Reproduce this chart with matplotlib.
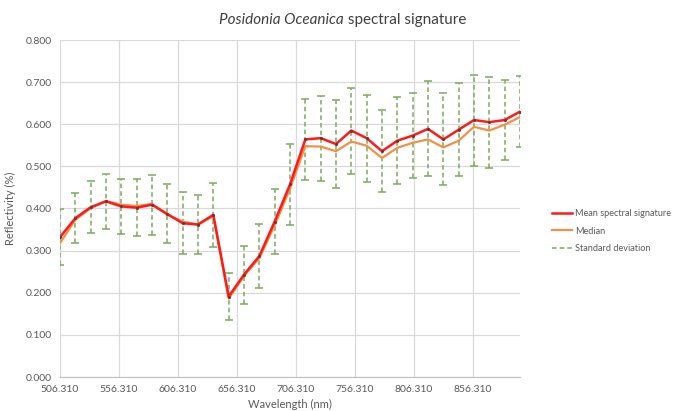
import matplotlib
matplotlib.use("Agg")
import matplotlib.pyplot as plt
from matplotlib.lines import Line2D
from matplotlib.ticker import FormatStrFormatter

wavelength = [506.31, 519.31, 532.31, 545.31, 558.31, 571.31, 584.31, 597.31,
              610.31, 623.31, 636.31, 649.31, 662.31, 675.31, 688.31, 701.31,
              714.31, 727.31, 740.31, 753.31, 766.31, 779.31, 792.31, 805.31,
              818.31, 831.31, 844.31, 857.31, 870.31, 883.31, 896.31]
mean_sig = [0.332, 0.377, 0.403, 0.417, 0.405, 0.402, 0.409, 0.387,
            0.365, 0.362, 0.385, 0.191, 0.243, 0.287, 0.369, 0.457,
            0.564, 0.567, 0.553, 0.585, 0.567, 0.536, 0.561, 0.573,
            0.589, 0.564, 0.587, 0.610, 0.605, 0.610, 0.630]
median_sig = [0.318, 0.373, 0.401, 0.418, 0.409, 0.406, 0.411, 0.385,
              0.369, 0.362, 0.382, 0.186, 0.240, 0.282, 0.360, 0.447,
              0.548, 0.547, 0.536, 0.559, 0.549, 0.520, 0.544, 0.556,
              0.564, 0.545, 0.561, 0.594, 0.585, 0.599, 0.617]
std_dev = [0.066, 0.059, 0.062, 0.065, 0.065, 0.067, 0.071, 0.070,
           0.073, 0.071, 0.076, 0.055, 0.069, 0.076, 0.077, 0.095,
           0.096, 0.101, 0.105, 0.102, 0.103, 0.097, 0.103, 0.100,
           0.113, 0.109, 0.110, 0.108, 0.108, 0.096, 0.084]
x_ticks = [506.31, 556.31, 606.31, 656.31, 706.31, 756.31, 806.31, 856.31]
y_ticks = [0.0, 0.1, 0.2, 0.3, 0.4, 0.5, 0.6, 0.7, 0.8]

plt.rcParams['font.family'] = ['Lato', 'DejaVu Sans']
txt_color = '#595959'
grid_color = '#d9d9d9'
green = '#7fa862'
dash = (0, (3, 2))

fig = plt.figure(figsize=(6.85, 4.11), dpi=100)
ax = fig.add_axes([60 / 685, 1 - 377 / 411, 460 / 685, 337 / 411])

eb = ax.errorbar(wavelength, mean_sig, yerr=std_dev, fmt='none', ecolor=green,
                 elinewidth=1.1, capsize=3, capthick=1.1, zorder=2)
eb[2][0].set_linestyle(dash)
ax.plot(wavelength, median_sig, color='#f0904a', linewidth=1.6, zorder=3)
ax.plot(wavelength, mean_sig, color='#ff1a1a', linewidth=1.8, zorder=4,
        marker='o', markersize=2.2, markerfacecolor='#7a3030', markeredgewidth=0)

ax.set_xlim(506.31, 896.31)
ax.set_ylim(0, 0.8)
ax.set_xticks(x_ticks)
ax.set_yticks(y_ticks)
ax.xaxis.set_major_formatter(FormatStrFormatter('%.3f'))
ax.yaxis.set_major_formatter(FormatStrFormatter('%.3f'))
ax.grid(True, color=grid_color, linewidth=0.9)
ax.set_axisbelow(True)
for s in ['top', 'right', 'left']:
    ax.spines[s].set_visible(False)
ax.spines['bottom'].set_color('#bfbfbf')
ax.tick_params(length=0, labelsize=7.5, colors=txt_color, pad=6)
ax.set_xlabel('Wavelength (nm)', fontsize=8, color=txt_color, labelpad=3)
ax.set_ylabel('Reflectivity (%)', fontsize=8, color=txt_color, labelpad=7)

t1 = fig.text(219 / 685, 1 - 24 / 411, 'Posidonia Oceanica', style='italic',
              fontsize=11, color='#404040', ha='left', va='baseline')
ax.annotate(' spectral signature', xy=(1, 0), xycoords=t1, ha='left', va='bottom',
            fontsize=11, color='#404040', annotation_clip=False)

handles = [Line2D([], [], color='#ff1a1a', linewidth=1.8),
           Line2D([], [], color='#f0904a', linewidth=1.6),
           Line2D([], [], color=green, linewidth=1.1, linestyle=dash)]
labels = ['Mean spectral signature', 'Median', 'Standard deviation']
fig.legend(handles, labels, loc='center left', bbox_to_anchor=(552 / 685, 1 - 231 / 411),
           frameon=False, fontsize=6.6, handlelength=2.2, handletextpad=0.3,
           labelspacing=0.9, labelcolor=txt_color, borderpad=0, borderaxespad=0)

fig.savefig('out.png', dpi=100)
